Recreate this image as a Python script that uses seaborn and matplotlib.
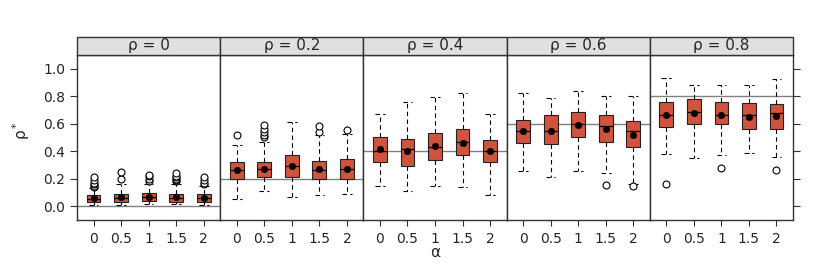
import matplotlib
matplotlib.use("Agg")
import matplotlib.pyplot as plt
import numpy as np
import pandas as pd
import seaborn as sns
from matplotlib.patches import Rectangle

# dados
rhos = [0, 0.2, 0.4, 0.6, 0.8]
alphas = ["0", "0.5", "1", "1.5", "2"]

q1 = [[0.030, 0.032, 0.035, 0.033, 0.032],
      [0.20, 0.21, 0.21, 0.20, 0.20],
      [0.32, 0.29, 0.335, 0.37, 0.32],
      [0.46, 0.45, 0.50, 0.47, 0.43],
      [0.575, 0.595, 0.595, 0.56, 0.565]]
mediana = [[0.055, 0.060, 0.065, 0.062, 0.058],
           [0.26, 0.27, 0.29, 0.26, 0.27],
           [0.40, 0.415, 0.43, 0.47, 0.40],
           [0.55, 0.545, 0.60, 0.58, 0.545],
           [0.66, 0.685, 0.665, 0.665, 0.68]]
q3 = [[0.082, 0.090, 0.095, 0.092, 0.088],
      [0.32, 0.32, 0.37, 0.33, 0.345],
      [0.50, 0.49, 0.53, 0.56, 0.48],
      [0.63, 0.66, 0.685, 0.66, 0.62],
      [0.755, 0.78, 0.76, 0.75, 0.745]]
media = [[0.060, 0.065, 0.070, 0.068, 0.063],
         [0.26, 0.27, 0.29, 0.27, 0.27],
         [0.415, 0.40, 0.44, 0.46, 0.40],
         [0.547, 0.55, 0.59, 0.56, 0.52],
         [0.66, 0.675, 0.66, 0.65, 0.655]]
bigode_inf = [[0.012, 0.012, 0.015, 0.014, 0.012],
              [0.05, 0.11, 0.07, 0.08, 0.09],
              [0.15, 0.11, 0.15, 0.14, 0.08],
              [0.255, 0.215, 0.255, 0.245, 0.16],
              [0.38, 0.35, 0.37, 0.385, 0.36]]
bigode_sup = [[0.13, 0.165, 0.16, 0.165, 0.15],
              [0.445, 0.47, 0.61, 0.52, 0.525],
              [0.67, 0.76, 0.795, 0.825, 0.67],
              [0.82, 0.79, 0.84, 0.805, 0.805],
              [0.93, 0.88, 0.885, 0.885, 0.925]]
outliers = [[[0.14, 0.15, 0.16, 0.17, 0.19, 0.21],
             [0.20, 0.25],
             [0.18, 0.20, 0.22, 0.23],
             [0.18, 0.19, 0.20, 0.21, 0.22, 0.24],
             [0.16, 0.17, 0.19, 0.21]],
            [[0.52],
             [0.50, 0.52, 0.54, 0.56, 0.59],
             [],
             [0.54, 0.585],
             [0.555]],
            [[], [], [], [], []],
            [[], [], [], [0.155], [0.145]],
            [[0.165], [], [0.275], [], [0.26]]]

cor_caixa = "#D0543D"
cor_moldura = "#333333"

sns.set_theme(style="ticks")
plt.rcParams["font.family"] = ["DejaVu Sans"]

fig, axes = plt.subplots(1, 5, figsize=(8.3, 2.77), dpi=100, sharey=True)
fig.subplots_adjust(left=0.0928, right=0.9554, bottom=0.2058, top=0.8015, wspace=0)

for i, ax in enumerate(axes):
    stats = []
    for j in range(len(alphas)):
        stats.append(dict(med=mediana[i][j], q1=q1[i][j], q3=q3[i][j],
                          whislo=bigode_inf[i][j], whishi=bigode_sup[i][j],
                          fliers=outliers[i][j], label=alphas[j]))
    ax.axhline(rhos[i], color="#808080", lw=1, zorder=1)
    ax.bxp(stats, positions=np.arange(len(alphas)), widths=0.5, capwidths=0.35,
           patch_artist=True, showfliers=True,
           boxprops=dict(facecolor=cor_caixa, edgecolor="#222222", linewidth=0.8),
           medianprops=dict(color="black", linewidth=0.9),
           whiskerprops=dict(color="black", linestyle=(0, (4, 3)), linewidth=0.8),
           capprops=dict(color="black", linestyle=(0, (4, 3)), linewidth=0.8),
           flierprops=dict(marker="o", markerfacecolor="white", markeredgecolor="black",
                           markersize=5, markeredgewidth=0.8))
    df_media = pd.DataFrame({"x": np.arange(len(alphas)), "y": media[i]})
    sns.scatterplot(data=df_media, x="x", y="y", color="black", s=22,
                    edgecolor="black", ax=ax, zorder=5, legend=False)

    ax.set_xlim(-0.6, 4.6)
    ax.set_ylim(-0.1, 1.1)
    ax.set_xticks(np.arange(len(alphas)))
    ax.set_xticklabels(alphas, fontsize=10)
    ax.set_xlabel("")
    ax.set_ylabel("")
    ax.tick_params(axis="x", length=4, width=0.8, color=cor_moldura, pad=5)
    for spine in ax.spines.values():
        spine.set_visible(True)
        spine.set_color(cor_moldura)
        spine.set_linewidth(1)

    # faixa com o título do painel
    ax.add_patch(Rectangle((0, 1.0), 1, 0.109, transform=ax.transAxes,
                           facecolor="#E0E0E0", edgecolor=cor_moldura, lw=1,
                           clip_on=False, zorder=3))
    ax.text(0.5, 1.055, f"ρ = {rhos[i]:g}", transform=ax.transAxes,
            ha="center", va="center", fontsize=11, zorder=4)

    if i == 0:
        ax.set_yticks([0, 0.2, 0.4, 0.6, 0.8, 1.0])
        ax.set_yticklabels(["0.0", "0.2", "0.4", "0.6", "0.8", "1.0"], fontsize=10)
        ax.tick_params(axis="y", left=True, right=False, length=5, width=0.8,
                       color=cor_moldura)
    elif i == 4:
        ax.tick_params(axis="y", left=False, right=True, labelleft=False,
                       length=5, width=0.8, color=cor_moldura)
    else:
        ax.tick_params(axis="y", left=False, right=False, labelleft=False)

fig.text(0.026, 0.53, "ρ$^*$", rotation=90, ha="center", va="center", fontsize=11)
fig.text(0.524, 0.088, "α", ha="center", va="center", fontsize=11)

fig.savefig("out.png", dpi=100)
